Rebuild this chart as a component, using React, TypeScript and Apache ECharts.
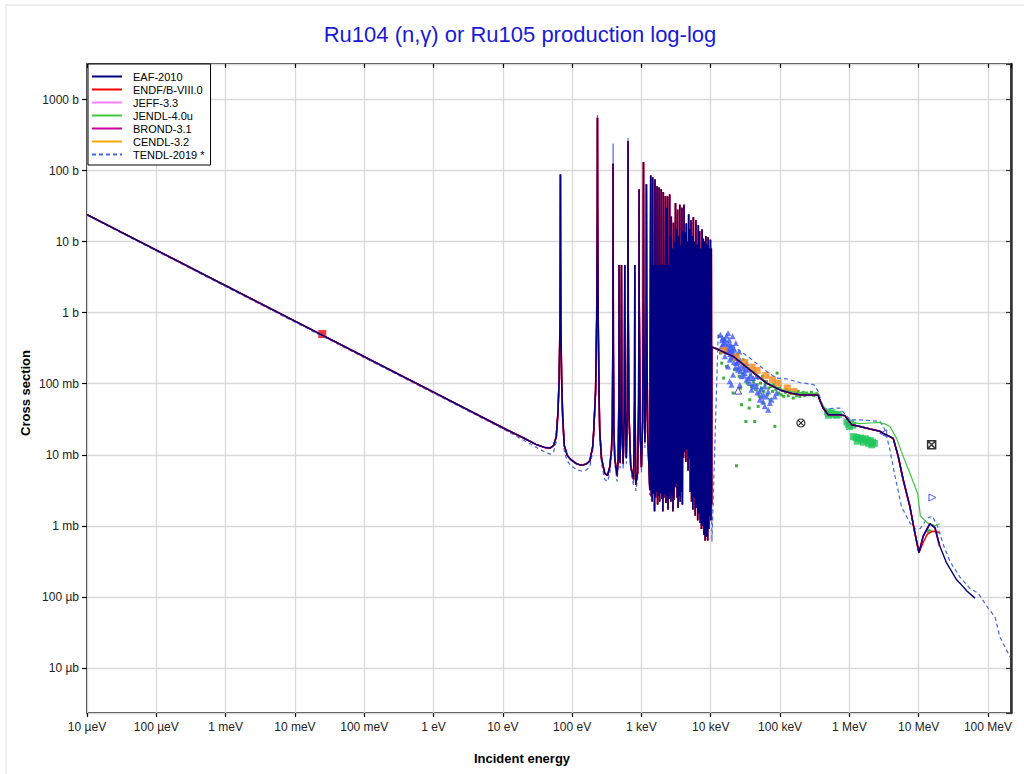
import React, { useEffect, useRef } from "react";
import * as echarts from "echarts";

// ---------- axis tick labels ----------
const xTickLabels = ["10 µeV", "100 µeV", "1 meV", "10 meV", "100 meV", "1 eV", "10 eV", "100 eV", "1 keV", "10 keV", "100 keV", "1 MeV", "10 MeV", "100 MeV"];
const xFirstExp = -5;
const yTickLabels = ["10 µb", "100 µb", "1 mb", "10 mb", "100 mb", "1 b", "10 b", "100 b", "1000 b"];
const yFirstExp = -5;

const xRange = [1e-5, 2.15e8];
const yRange = [2.32e-6, 3162];

const legendNames = ["EAF-2010", "ENDF/B-VIII.0", "JEFF-3.3", "JENDL-4.0u", "BROND-3.1", "CENDL-3.2", "TENDL-2019 *"];

// ---------- evaluated data [energy eV, cross section b] ----------
const thermalBranch = [
  [1e-5, 24], [1e-4, 7.6], [1e-3, 2.4], [1e-2, 0.76], [0.1, 0.24], [1, 0.076], [10, 0.024],
  [20, 0.0172], [30, 0.014], [40, 0.0127], [48, 0.0124],
];

const isolatedResonances = [
  [54, 0.0135], [59, 0.018], [62.5, 0.04], [65, 0.12], [66.8, 0.7], [67.5, 8], [67.8, 88], [68.1, 8], [68.8, 0.7],
  [70.5, 0.12], [73, 0.035], [77, 0.0135], [85, 0.0098], [95, 0.0086], [115, 0.0075], [136, 0.0071], [160, 0.0074],
  [180, 0.0082], [198, 0.013], [205, 0.022], [218, 0.08], [226, 0.8], [231, 30], [232, 552], [233, 30], [238, 0.8],
  [244, 0.08], [250, 0.022], [265, 0.009], [295, 0.0055], [324, 0.0051], [350, 0.0068], [370, 0.012], [380, 0.025],
  [386, 0.3], [389.5, 15], [390, 125], [390.5, 15], [394, 0.3], [400, 0.025], [412, 0.009], [445, 0.0051],
  [462, 0.009], [472, 0.06], [476, 4.7], [480, 0.05], [492, 0.0077], [505, 0.03], [515, 4.7], [523, 0.03],
  [545, 0.0075], [565, 0.04], [575, 4.7], [585, 0.04], [605, 0.009], [625, 0.04], [636, 1], [641, 259], [646, 1],
  [660, 0.04], [700, 0.007], [770, 0.0045], [795, 0.06], [802, 4.7], [808, 0.06], [828, 0.0038], [880, 0.0055],
  [910, 0.05], [920, 1.5], [925, 54], [930, 1.5], [960, 0.02], [1000, 0.0067], [1040, 0.03], [1062, 1.5],
  [1070, 132], [1078, 1.5], [1120, 0.015], [1155, 0.05], [1172, 1.5], [1180, 64], [1190, 1.5], [1230, 0.02],
  [1320, 0.0032],
];

const denseResonances = [
  [1360, 85], [1385, 0.0026], [1410, 4.7], [1430, 0.0022], [1450, 80], [1485, 0.0028], [1520, 4.7], [1545, 0.0016],
  [1570, 75], [1600, 0.0025], [1630, 4.7], [1655, 0.003], [1680, 60], [1710, 0.002], [1740, 4.7], [1770, 0.0026],
  [1800, 58], [1830, 0.0022], [1860, 4.7], [1895, 0.0029], [1930, 55], [1965, 0.0024], [2000, 4.7], [2035, 0.0016],
  [2070, 50], [2110, 0.0025], [2150, 4.7], [2185, 0.0028], [2220, 44], [2260, 0.0021], [2300, 30], [2340, 0.0026],
  [2380, 43], [2420, 0.0017], [2460, 4.7], [2505, 0.0024], [2550, 46], [2585, 0.003], [2620, 12], [2660, 0.0022],
  [2700, 22.6], [2750, 0.0027], [2800, 8], [2850, 0.0016], [2900, 18.5], [2950, 0.0023], [3000, 10], [3050, 0.0035],
  [3100, 35], [3160, 0.004], [3220, 15], [3270, 0.0025], [3320, 28], [3380, 0.0018], [3450, 12], [3510, 0.0026],
  [3570, 33], [3630, 0.0022], [3700, 9], [3760, 0.003], [3830, 30], [3900, 0.002], [3970, 14], [4040, 0.009],
  [4120, 33], [4200, 0.011], [4280, 13.4], [4360, 0.008], [4450, 18], [4530, 0.012], [4620, 10], [4710, 0.006],
  [4800, 24], [4890, 0.009], [4980, 15], [5080, 0.003], [5180, 20], [5290, 0.0022], [5400, 12], [5510, 0.0017],
  [5620, 22], [5730, 0.0025], [5850, 10], [5970, 0.0014], [6100, 20], [6220, 0.0018], [6350, 9], [6480, 0.0012],
  [6620, 17], [6760, 0.0015], [6900, 14], [7050, 0.0011], [7200, 8], [7350, 0.0009], [7500, 14.8], [7660, 0.001],
  [7820, 11], [7980, 0.00075], [8150, 10], [8320, 0.00062], [8500, 12], [8670, 0.0007], [8850, 9], [9020, 0.00062],
  [9200, 11.5], [9380, 0.0009], [9550, 8], [9720, 0.0014], [9900, 10.6], [10050, 0.0012], [10200, 8], [10300, 0.002],
];

const fastMain = [
  [10350, 0.33], [12100, 0.31], [21000, 0.243], [36600, 0.157], [63800, 0.102], [105000, 0.08], [150000, 0.073],
  [193000, 0.07], [300000, 0.069], [355000, 0.069], [376000, 0.058], [419000, 0.0455], [494000, 0.0366],
  [730000, 0.0366], [861000, 0.0355], [1.08e6, 0.0265], [1.42e6, 0.025], [2.0e6, 0.023], [2.76e6, 0.0214],
  [3.08e6, 0.02], [4.3e6, 0.017], [5.07e6, 0.0095], [5.98e6, 0.00445], [7.48e6, 0.00186], [8.83e6, 0.00079],
  [10.1e6, 0.00042],
];

const eafHigh = [
  [11.6e6, 0.00071], [14.5e6, 0.00107], [17.2e6, 0.00094], [20.3e6, 0.00051], [25.3e6, 0.0003],
  [35.3e6, 0.000174], [39.4e6, 0.000156], [50e6, 0.00012], [64.9e6, 0.000096],
];

const endfHigh = [
  [11.6e6, 0.00058], [13.3e6, 0.00076], [15.4e6, 0.00083], [17.2e6, 0.00084], [20e6, 0.0008],
];

const otherHigh = [
  [11.6e6, 0.00071], [14.5e6, 0.00107], [17.2e6, 0.00094], [20e6, 0.00052],
];

const jendlFast = [
  [10350, 0.33], [12100, 0.315], [21000, 0.248], [36600, 0.162], [63800, 0.105], [105000, 0.083], [193000, 0.073],
  [355000, 0.073], [376000, 0.061], [419000, 0.049], [494000, 0.04], [730000, 0.038], [861000, 0.036],
  [1.0e6, 0.029], [1.42e6, 0.0275], [2.0e6, 0.028], [2.76e6, 0.0285], [3.3e6, 0.027], [3.85e6, 0.025],
  [4.8e6, 0.017], [5.98e6, 0.0095], [7.48e6, 0.0055], [9.7e6, 0.0028], [10.6e6, 0.00137], [13.3e6, 0.0011],
  [17.2e6, 0.001], [20e6, 0.00107],
];

const tendlLow = [
  [1e-5, 23.5], [1e-3, 2.33], [0.1, 0.233], [1, 0.0737], [10, 0.0232], [20, 0.016], [30, 0.0128], [40, 0.011],
  [48, 0.0102], [54, 0.011], [59, 0.015], [62.5, 0.033], [65, 0.1], [66.8, 0.6], [67.5, 7], [67.8, 90], [68.1, 7],
  [68.8, 0.6], [70.5, 0.1], [73, 0.03], [77, 0.0112], [85, 0.0082], [95, 0.0071], [115, 0.0062], [136, 0.0059],
  [160, 0.0061], [180, 0.0068], [198, 0.011], [205, 0.018], [218, 0.07], [226, 0.7], [231, 30], [232, 600],
  [233, 30], [238, 0.7], [244, 0.07], [250, 0.018], [265, 0.0075], [295, 0.0045], [324, 0.0042], [350, 0.0055],
  [370, 0.01], [380, 0.021], [386, 0.25], [389.5, 15], [390, 240], [390.5, 15], [394, 0.25], [400, 0.021],
  [412, 0.0075], [445, 0.0042], [462, 0.0075], [472, 0.05], [476, 4.7], [480, 0.04], [492, 0.0064], [505, 0.025],
  [515, 4.7], [523, 0.025], [545, 0.0062], [565, 0.033], [575, 4.7], [585, 0.033], [605, 0.0075], [625, 0.033],
  [636, 0.9], [641, 290], [646, 0.9], [660, 0.033], [700, 0.0058], [770, 0.0037], [795, 0.05], [802, 4.7],
  [808, 0.05], [828, 0.0031], [880, 0.0045], [910, 0.04], [920, 1.3], [925, 54], [930, 1.3], [960, 0.017],
  [1000, 0.0056], [1040, 0.025], [1062, 1.3], [1070, 132], [1078, 1.3], [1120, 0.0125], [1155, 0.042],
  [1172, 1.3], [1180, 64], [1190, 1.3], [1230, 0.017], [1320, 0.0027],
];

const tendlBridge = [[10400, 0.0006]];

const tendlFast = [
  [12800, 0.49], [21000, 0.34], [36600, 0.23], [63700, 0.15], [88900, 0.12], [124000, 0.117], [193000, 0.104],
  [307000, 0.097], [355000, 0.078], [420000, 0.0444], [730000, 0.0454], [1.02e6, 0.031], [1.42e6, 0.031],
  [2.76e6, 0.0296], [3.27e6, 0.0225], [3.85e6, 0.0117], [4.56e6, 0.005], [5.66e6, 0.00186], [7.48e6, 0.0011],
  [8.83e6, 0.0009], [10.6e6, 0.00092], [13.3e6, 0.00128], [15.8e6, 0.00137], [18.7e6, 0.00099], [23.2e6, 0.00051],
  [28.6e6, 0.00031], [39.4e6, 0.00019], [54e6, 0.000133], [72e6, 0.000113], [100e6, 0.00007], [126e6, 0.0000525],
  [149e6, 0.000027], [186e6, 0.0000178], [207e6, 0.0000144],
];

// ---------- experimental data [energy eV, cross section b] ----------
const thermalPoint = [[0.0248, 0.5]];

const blueCloud = [
  [13800, 0.49], [14800, 0.44], [15400, 0.374], [16900, 0.474], [17800, 0.518], [18400, 0.417], [19300, 0.354],
  [16500, 0.301], [19900, 0.285], [21000, 0.318], [22200, 0.243], [18800, 0.218], [17800, 0.175], [23500, 0.195],
  [24800, 0.157], [26300, 0.218], [21000, 0.134], [27800, 0.127], [29400, 0.166], [31000, 0.141], [32800, 0.114],
  [34700, 0.157], [36600, 0.102], [40900, 0.0917], [38700, 0.0824], [45700, 0.0917], [51100, 0.078], [54000, 0.0663],
  [57000, 0.0564], [63700, 0.0663], [67400, 0.078], [71300, 0.0535], [75300, 0.0595], [84100, 0.0663],
  [88900, 0.0739], [18800, 0.108], [19900, 0.0968], [16000, 0.243], [14300, 0.336], [26300, 0.0968],
  [51100, 0.0595], [60300, 0.048], [45700, 0.127], [40900, 0.12], [23000, 0.374], [20600, 0.467], [25700, 0.285],
  [32800, 0.195], [60300, 0.0917], [67400, 0.043],
  [14500, 0.41], [15000, 0.35], [15800, 0.42], [16200, 0.38], [17000, 0.33], [17500, 0.28], [18000, 0.36],
  [18600, 0.3], [19000, 0.26], [19600, 0.33], [20300, 0.24], [20800, 0.28], [21500, 0.2], [22000, 0.3],
  [22800, 0.17], [23800, 0.23], [24500, 0.2], [25200, 0.17], [26800, 0.15], [28000, 0.18], [30000, 0.13],
  [31800, 0.16], [35500, 0.12], [38000, 0.13], [42000, 0.1], [47000, 0.075], [53000, 0.085], [58000, 0.07],
];

const greenDots = [
  [13200, 0.464], [13800, 0.27], [14400, 0.195], [15400, 0.12], [16900, 0.175], [18400, 0.285], [19900, 0.218],
  [22200, 0.157], [24000, 0.256], [25700, 0.127], [26900, 0.0869], [27800, 0.0506], [29400, 0.141], [31000, 0.175],
  [32100, 0.0294], [33500, 0.102], [34700, 0.12], [35800, 0.0454], [37400, 0.134], [38700, 0.0917], [40900, 0.108],
  [42300, 0.149], [43200, 0.0294], [44700, 0.0824], [46700, 0.0968], [48300, 0.12], [50000, 0.0663], [52200, 0.102],
  [54000, 0.0869], [55800, 0.127], [58300, 0.078], [61000, 0.0968], [63700, 0.108], [65900, 0.07], [68900, 0.0869],
  [71300, 0.0595], [74500, 0.0917], [77800, 0.078], [81300, 0.0968], [84100, 0.0251], [86900, 0.0824],
  [90800, 0.141], [95000, 0.0739], [99300, 0.0869], [104000, 0.07], [108000, 0.0806], [113000, 0.0663],
  [119000, 0.0755], [124000, 0.0824], [131000, 0.0678], [138000, 0.078], [146000, 0.0723], [155000, 0.0628],
  [164000, 0.0755], [173000, 0.0678], [183000, 0.078], [193000, 0.0663], [204000, 0.0723], [216000, 0.0755],
  [228000, 0.0678], [241000, 0.0739], [263000, 0.07], [284000, 0.0755], [307000, 0.0678], [336000, 0.0723],
  [23500, 0.007], [16000, 0.417], [21000, 0.0739], [29400, 0.218], [57000, 0.0535], [36600, 0.0595], [48300, 0.048],
];

const greenBlobs = [
  [480000, 0.04], [520000, 0.038], [560000, 0.039], [600000, 0.037], [650000, 0.036], [700000, 0.037], [500000, 0.036],
  [920000, 0.029], [980000, 0.027], [1.05e6, 0.028], [1.12e6, 0.026], [1.0e6, 0.025],
  [1.15e6, 0.018], [1.25e6, 0.0175], [1.35e6, 0.017], [1.45e6, 0.0172], [1.55e6, 0.0165], [1.7e6, 0.0168],
  [1.85e6, 0.016], [2.0e6, 0.0158], [2.15e6, 0.015], [2.3e6, 0.0145], [1.3e6, 0.0155], [1.6e6, 0.015],
  [1.9e6, 0.0145], [2.1e6, 0.0138],
];

const orangePoints = [
  [15500, 0.294], [23600, 0.238], [31000, 0.2], [39600, 0.172], [46700, 0.154], [62400, 0.131], [77900, 0.114],
  [94000, 0.102], [127000, 0.087], [158000, 0.078],
];

const hollowUpTriangle = [[24800, 0.08]];
const hollowRightTriangle = [[15.8e6, 0.0025]];
const hollowLeftTriangle = [[3.08e6, 0.02]];
const circleCrossPoint = [[200000, 0.028]];
const squareCrossPoint = [[15.4e6, 0.0138]];
const greenTrianglePoint = [[14.5e6, 0.00085]];

// ---------- component ----------
const FONT = '"Liberation Sans", Arial, Helvetica, sans-serif';

function makeFormatter(labels: string[], firstExp: number) {
  return (v: number) => {
    const e = Math.log10(v);
    const r = Math.round(e);
    if (Math.abs(e - r) > 0.01) return "";
    return labels[r - firstExp] ?? "";
  };
}

function lineSeries(name: string, data: number[][], color: string, width: number, dashed = false) {
  return {
    type: "line",
    name,
    data,
    symbol: "none",
    showSymbol: false,
    silent: true,
    clip: true,
    xAxisIndex: 0,
    yAxisIndex: 0,
    lineStyle: { color, width, type: dashed ? [4, 3] : "solid" },
    itemStyle: { color },
  };
}

function scatterSeries(name: string, data: number[][], symbol: string, size: number, itemStyle: any, rotate = 0) {
  return {
    type: "scatter",
    name,
    data,
    symbol,
    symbolSize: size,
    symbolRotate: rotate,
    silent: true,
    clip: true,
    xAxisIndex: 0,
    yAxisIndex: 0,
    itemStyle,
  };
}

export default function App() {
  const ref = useRef<HTMLDivElement>(null);

  useEffect(() => {
    if (!ref.current) return;
    const chart = echarts.init(ref.current, undefined, { renderer: "svg" });

    const mainLow = [...thermalBranch, ...isolatedResonances, ...denseResonances];

    const xBase = {
      type: "log",
      logBase: 10,
      min: xRange[0],
      max: xRange[1],
      interval: 1,
      splitNumber: 13,
    };
    const yBase = {
      type: "log",
      logBase: 10,
      min: yRange[0],
      max: yRange[1],
      splitNumber: 9,
    };

    const option: any = {
      animation: false,
      backgroundColor: "#ffffff",
      grid: {
        left: 87,
        right: 13,
        top: 64,
        bottom: 61,
        show: true,
        borderColor: "#000",
        borderWidth: 1.5,
        backgroundColor: "transparent",
      },
      legend: {
        data: legendNames,
        orient: "vertical",
        left: 88,
        top: 64,
        padding: [7, 6, 5, 3],
        itemWidth: 30,
        itemHeight: 10,
        itemGap: 2,
        selectedMode: false,
        backgroundColor: "#fff",
        borderColor: "#000",
        borderWidth: 1,
        borderRadius: 0,
        z: 20,
        itemStyle: { color: "rgba(0,0,0,0)", borderColor: "rgba(0,0,0,0)", borderWidth: 0, opacity: 0 },
        textStyle: { fontFamily: FONT, fontSize: 11, color: "#000", padding: [0, 0, 0, 6], lineHeight: 10 },
      },
      xAxis: [
        {
          ...xBase,
          position: "bottom",
          axisLine: { show: false },
          axisTick: { show: true, inside: false, length: 4, lineStyle: { color: "#000", width: 1.2 } },
          minorTick: { show: false },
          axisLabel: {
            show: true,
            margin: 8,
            formatter: makeFormatter(xTickLabels, xFirstExp),
            fontFamily: FONT,
            fontSize: 12,
            color: "#222",
            showMinLabel: true,
            showMaxLabel: false,
            hideOverlap: false,
          },
          splitLine: { show: true, lineStyle: { color: "#d9d9d9", width: 1.3 } },
        },
        {
          ...xBase,
          position: "top",
          axisLine: { show: false },
          axisTick: { show: true, inside: true, length: 4, lineStyle: { color: "#000", width: 1.2 } },
          axisLabel: { show: false },
          splitLine: { show: false },
        },
      ],
      yAxis: [
        {
          ...yBase,
          position: "left",
          axisLine: { show: false },
          axisTick: { show: true, inside: false, length: 5, lineStyle: { color: "#000", width: 1.2 } },
          minorTick: { show: false },
          axisLabel: {
            show: true,
            margin: 8,
            formatter: makeFormatter(yTickLabels, yFirstExp),
            fontFamily: FONT,
            fontSize: 12,
            color: "#222",
            showMinLabel: false,
            showMaxLabel: false,
          },
          splitLine: { show: true, lineStyle: { color: "#d9d9d9", width: 1.3 } },
        },
        {
          ...yBase,
          position: "right",
          axisLine: { show: true, lineStyle: { color: "#333", width: 2.5 } },
          axisTick: { show: true, inside: true, length: 5, lineStyle: { color: "#333", width: 1.2 } },
          axisLabel: { show: false },
          splitLine: { show: false },
        },
      ],
      graphic: [
        {
          type: "rect",
          silent: true,
          shape: { x: 6, y: 5, width: 1040, height: 800 },
          style: { fill: "none", stroke: "#ececec", lineWidth: 1.5 },
          z: -10,
        },
        {
          type: "text",
          silent: true,
          x: 520,
          y: 34,
          style: {
            text: "Ru104 (n,γ) or Ru105 production log-log",
            fill: "#1a1ad6",
            font: `22px ${FONT}`,
            textAlign: "center",
            textVerticalAlign: "middle",
          },
        },
        {
          type: "text",
          silent: true,
          x: 522,
          y: 758,
          style: {
            text: "Incident energy",
            fill: "#000",
            font: `bold 13px ${FONT}`,
            textAlign: "center",
            textVerticalAlign: "middle",
          },
        },
        {
          type: "text",
          silent: true,
          x: 25,
          y: 393,
          rotation: Math.PI / 2,
          style: {
            text: "Cross section",
            fill: "#000",
            font: `bold 13px ${FONT}`,
            textAlign: "center",
            textVerticalAlign: "middle",
          },
        },
      ],
      series: [
        scatterSeries("exp-green", greenDots, "rect", 3, { color: "#119911" }),
        scatterSeries("exp-blue", blueCloud, "triangle", 6, { color: "#3d5afe" }),
        scatterSeries("exp-green-blob", greenBlobs, "rect", 7, { color: "#22c55e" }),
        lineSeries("TENDL-2019 *", [...tendlLow, ...denseResonances, ...tendlBridge, ...tendlFast], "#4169e1", 1.2, true),
        lineSeries("CENDL-3.2", [...mainLow, ...fastMain, ...otherHigh], "#ffa500", 1.5),
        lineSeries("JEFF-3.3", [...mainLow, ...fastMain, ...otherHigh], "#ff80ff", 1.5),
        lineSeries("JENDL-4.0u", [...mainLow, ...jendlFast], "#3fc83f", 1.2),
        lineSeries("BROND-3.1", [...mainLow, ...fastMain, ...otherHigh], "#c8009c", 1.6),
        lineSeries("ENDF/B-VIII.0", [...mainLow, ...fastMain, ...endfHigh], "#ff0000", 1.5),
        lineSeries("EAF-2010", [...mainLow, ...fastMain, ...eafHigh], "#000080", 1.4),
        scatterSeries("exp-orange", orangePoints, "rect", 7, { color: "#ff8a1c" }),
        scatterSeries("exp-thermal", thermalPoint, "rect", 8, { color: "#ff0000" }),
        scatterSeries("exp-up", hollowUpTriangle, "triangle", 7, { color: "rgba(0,0,0,0)", borderColor: "#1a1aa0", borderWidth: 1 }),
        scatterSeries("exp-right", hollowRightTriangle, "triangle", 7, { color: "rgba(0,0,0,0)", borderColor: "#2233ee", borderWidth: 1 }, -90),
        scatterSeries("exp-left", hollowLeftTriangle, "triangle", 7, { color: "rgba(0,0,0,0)", borderColor: "#2233ee", borderWidth: 1 }, 90),
        scatterSeries("exp-circlecross", circleCrossPoint, "path://M10 1A9 9 0 1 1 10 19A9 9 0 1 1 10 1ZM4 4L16 16M16 4L4 16", 8, { color: "rgba(0,0,0,0)", borderColor: "#000", borderWidth: 1.2 }),
        scatterSeries("exp-squarecross", squareCrossPoint, "path://M1 1H19V19H1ZM1 1L19 19M19 1L1 19", 8, { color: "rgba(0,0,0,0)", borderColor: "#000", borderWidth: 1.5 }),
        scatterSeries("exp-greentri", greenTrianglePoint, "triangle", 6, { color: "#1f9f1f" }, -90),
      ],
    };

    chart.setOption(option);
    return () => chart.dispose();
  }, []);

  return (
    <div
      ref={ref}
      style={{ position: "absolute", left: 0, top: 0, width: 1024, height: 774 }}
    />
  );
}
